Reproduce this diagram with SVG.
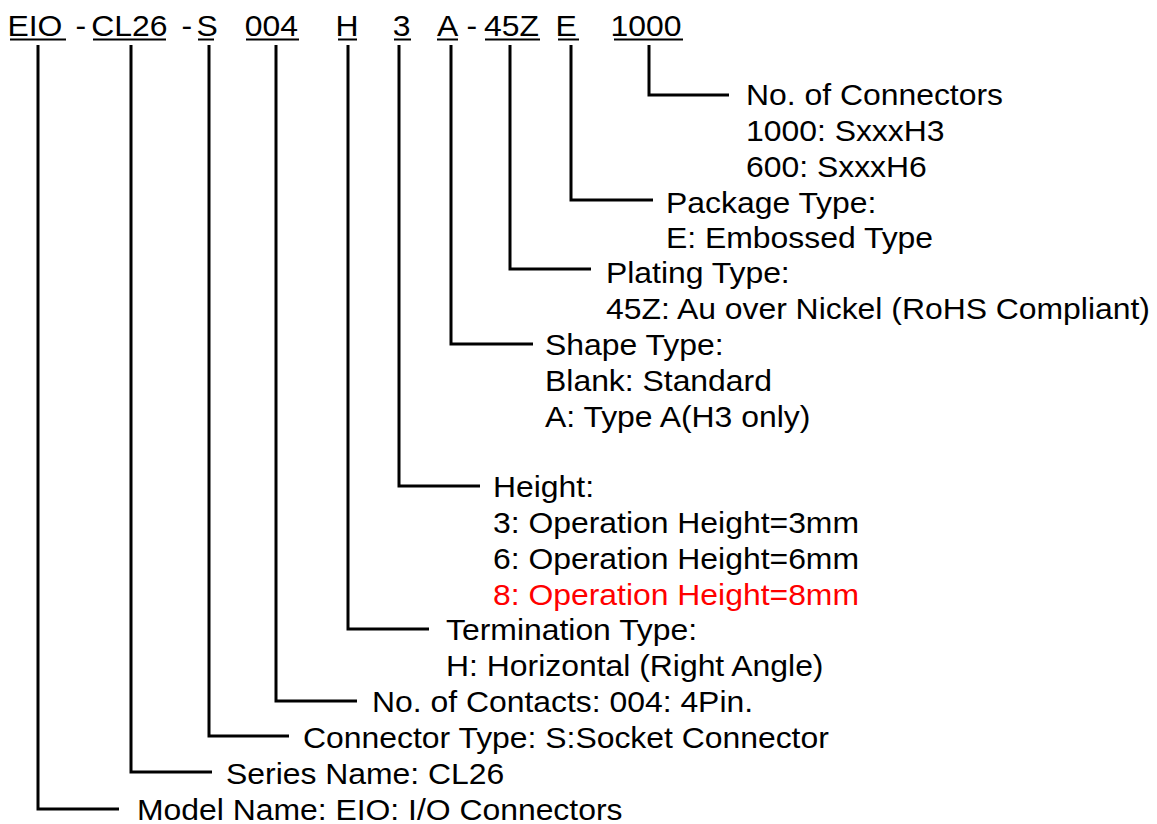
<svg xmlns="http://www.w3.org/2000/svg" width="1157" height="824" viewBox="0 0 1157 824">
<style>
text{font-family:"Liberation Sans",Arial,Helvetica,sans-serif;font-size:29px;fill:#000}
.red{fill:#ff0000}
.conn path{fill:none;stroke:#000;stroke-width:3}
.ul line{stroke:#000;stroke-width:2}
</style>
<rect width="1157" height="824" fill="#fff"/>
<g id="code">
<g transform="scale(1.1,1)">
<text x="6.8" y="36">EIO</text>
<text x="68.6" y="36">-</text>
<text x="83" y="36">CL26</text>
<text x="165" y="36">-</text>
<text x="178.6" y="36">S</text>
<text x="222.5" y="36">004</text>
<text x="305" y="36">H</text>
<text x="357" y="36">3</text>
<text x="397.3" y="36">A</text>
<text x="424" y="36">-</text>
<text x="440" y="36">45Z</text>
<text x="505" y="36">E</text>
<text x="555" y="36">1000</text>
</g>
<g class="ul">
<line x1="10" y1="39.5" x2="66" y2="39.5"/>
<line x1="93" y1="39.5" x2="166" y2="39.5"/>
<line x1="198" y1="39.5" x2="214" y2="39.5"/>
<line x1="246" y1="39.5" x2="299" y2="39.5"/>
<line x1="338" y1="39.5" x2="357" y2="39.5"/>
<line x1="394" y1="39.5" x2="411" y2="39.5"/>
<line x1="437" y1="39.5" x2="458" y2="39.5"/>
<line x1="485" y1="39.5" x2="540" y2="39.5"/>
<line x1="558" y1="39.5" x2="579" y2="39.5"/>
<line x1="614" y1="39.5" x2="683" y2="39.5"/>
</g>
</g>
<g class="conn" id="connectors">
<path d="M649,45 V95 H729"/>
<path d="M571,45 V200 H653"/>
<path d="M510,45 V269 H591"/>
<path d="M451,45 V344 H533"/>
<path d="M399,45 V486 H480"/>
<path d="M348,45 V629 H429"/>
<path d="M276,45 V701 H357"/>
<path d="M209,45 V736 H289"/>
<path d="M131,45 V772 H212"/>
<path d="M38,45 V809 H119"/>
</g>
<g transform="scale(1.1,1)">
<g id="n-connectors">
<text x="678.2" y="105">No. of Connectors</text>
<text x="678.2" y="141">1000: SxxxH3</text>
<text x="678.2" y="177">600: SxxxH6</text>
</g>
<g id="n-package">
<text x="605.5" y="213">Package Type:</text>
<text x="605.5" y="248">E: Embossed Type</text>
</g>
<g id="n-plating">
<text x="550.9" y="283">Plating Type:</text>
<text x="550.9" y="319">45Z: Au over Nickel (RoHS Compliant)</text>
</g>
<g id="n-shape">
<text x="495.5" y="355">Shape Type:</text>
<text x="495.5" y="391">Blank: Standard</text>
<text x="495.5" y="427">A: Type A(H3 only)</text>
</g>
<g id="n-height">
<text x="448.2" y="497">Height:</text>
<text x="448.2" y="533">3: Operation Height=3mm</text>
<text x="448.2" y="569">6: Operation Height=6mm</text>
<text x="448.2" y="605" class="red">8: Operation Height=8mm</text>
</g>
<g id="n-termination">
<text x="405.5" y="640">Termination Type:</text>
<text x="405.5" y="676">H: Horizontal (Right Angle)</text>
</g>
<g id="n-contacts">
<text x="338.2" y="712">No. of Contacts: 004: 4Pin.</text>
</g>
<g id="n-type">
<text x="275.5" y="748">Connector Type: S:Socket Connector</text>
</g>
<g id="n-series">
<text x="205.5" y="784">Series Name: CL26</text>
</g>
<g id="n-model">
<text x="124.5" y="820">Model Name: EIO: I/O Connectors</text>
</g>
</g>
</svg>
